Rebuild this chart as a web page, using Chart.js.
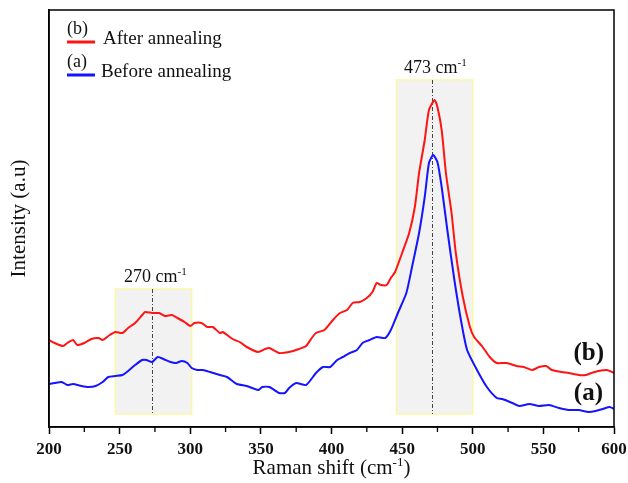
<!DOCTYPE html>
<html>
<head>
<meta charset="utf-8">
<script src="https://cdn.jsdelivr.net/npm/chart.js@4.4.1/dist/chart.umd.min.js"></script>
<style>
  html, body { margin: 0; padding: 0; background: #fff; }
  #wrap { width: 628px; height: 483px; }
</style>
</head>
<body>
<div id="wrap"><canvas id="raman" width="628" height="483"></canvas></div>
<script>
// (b) after annealing
const shiftB = [200,204,210,213,217,220,225,230,235,238,243,247,252,256,261,266,268,273,278,282,
  287,291,296,300,303,308,312,316,321,323,330,335,340,348,353,356,363,370,377,382,
  386,389,395,401,406,411,415,420,425,429,432,435,439,442,445,450,455,459,462,466,
  469,473,475,478,481,485,488,493,498,501,507,512,517,524,531,536,542,547,552,556,
  563,568,575,580,584,589,595,600];
const intensityB = [87,84,81,84,87,82,84,88,89,87,92,95,94,99,104,112,115,114,114,111,
  112,109,105,101,104,104,100,100,94,95,88,85,80,75,78,79,74,75,78,81,
  89,94,97,107,114,117,124,125,129,135,144,142,142,149,155,174,194,220,254,287,
  317,327,320,297,254,214,174,130,100,90,80,70,64,64,61,60,57,60,61,57,
  55,54,52,52,54,56,57,54];

// (a) before annealing
const shiftA = [200,204,209,213,217,223,228,233,238,242,247,252,256,261,266,269,273,277,281,286,
  290,294,298,301,305,309,314,321,326,333,340,348,351,356,363,367,370,375,382,389,
  394,399,404,408,413,418,422,427,432,438,442,447,453,457,462,466,469,472,475,478,
  482,487,492,496,503,510,517,521,528,533,540,547,554,561,568,575,582,587,592,597,600];
const intensityA = [43,44,45,42,43,41,40,41,45,50,51,52,56,62,67,67,65,70,68,65,
  64,66,64,59,57,57,55,52,50,43,41,37,40,40,34,34,39,44,42,54,
  60,60,67,70,74,77,84,87,90,89,97,114,134,160,194,230,264,272,265,240,
  197,147,104,77,57,40,29,28,24,21,23,21,22,19,17,17,15,16,18,20,18];

// shaded bands (x in cm-1, y in intensity units)
const bandStart = [247, 446];
const bandEnd = [301, 500];
const bandTop = [138, 347];
const bandBottom = [13, 13];
const bandCenter = [273, 471];
const bandLabel = ['270', '473'];

const majorTicks = [200, 250, 300, 350, 400, 450, 500, 550, 600];
const minorTicks = [225, 275, 325, 375, 425, 475, 525, 575];

const SERIF = '"Liberation Serif", "Times New Roman", serif';

function drawParts(ctx, parts, cx, y, size, weight) {
  // parts: [text, isSup]
  let total = 0;
  const widths = parts.map(function (p) {
    ctx.font = weight + ' ' + (p[1] ? size * 0.62 : size) + 'px ' + SERIF;
    const w = ctx.measureText(p[0]).width;
    total += w;
    return w;
  });
  let x = cx - total / 2;
  parts.forEach(function (p, i) {
    ctx.font = weight + ' ' + (p[1] ? size * 0.62 : size) + 'px ' + SERIF;
    ctx.fillText(p[0], x, p[1] ? y - size * 0.38 : y);
    x += widths[i];
  });
}

const decor = {
  id: 'decor',
  beforeDatasetsDraw(chart) {
    const ctx = chart.ctx;
    const x = chart.scales.x, y = chart.scales.y;
    ctx.save();
    for (let i = 0; i < bandStart.length; i++) {
      const l = x.getPixelForValue(bandStart[i]);
      const r = x.getPixelForValue(bandEnd[i]);
      const t = y.getPixelForValue(bandTop[i]);
      const b = y.getPixelForValue(bandBottom[i]);
      ctx.fillStyle = '#f2f2f2';
      ctx.fillRect(l, t, r - l, b - t);
      ctx.strokeStyle = '#fbf7a8';
      ctx.lineWidth = 1.5;
      ctx.strokeRect(l, t, r - l, b - t);
      const c = Math.round(x.getPixelForValue(bandCenter[i])) + 0.5;
      ctx.strokeStyle = '#444';
      ctx.lineWidth = 1;
      ctx.setLineDash([4, 2, 1, 2]);
      ctx.beginPath();
      ctx.moveTo(c, t);
      ctx.lineTo(c, b);
      ctx.stroke();
      ctx.setLineDash([]);
      ctx.fillStyle = '#111';
      ctx.textBaseline = 'alphabetic';
      ctx.textAlign = 'left';
      drawParts(ctx, [[bandLabel[i] + ' cm', false], ['-1', true]], c + 3, t - 7, 18, 'normal');
    }
    ctx.restore();
  },
  afterDraw(chart) {
    const ctx = chart.ctx;
    const a = chart.chartArea;
    const x = chart.scales.x;
    ctx.save();
    // frame
    ctx.strokeStyle = '#000';
    ctx.lineWidth = 1.5;
    ctx.strokeRect(a.left, a.top, a.right - a.left, a.bottom - a.top);
    // minor ticks
    ctx.lineWidth = 1.3;
    ctx.beginPath();
    minorTicks.forEach(function (v) {
      const px = x.getPixelForValue(v);
      ctx.moveTo(px, a.bottom);
      ctx.lineTo(px, a.bottom + 5);
    });
    ctx.stroke();

    ctx.textAlign = 'left';
    ctx.textBaseline = 'alphabetic';
    ctx.fillStyle = '#111';
    // x title
    drawParts(ctx, [['Raman shift (cm', false], ['-1', true], [')', false]], (a.left + a.right) / 2, 474, 21, 'normal');

    // legend
    ctx.lineWidth = 3;
    ctx.strokeStyle = '#ff1414';
    ctx.beginPath(); ctx.moveTo(a.left + 18, a.top + 32); ctx.lineTo(a.left + 46, a.top + 32); ctx.stroke();
    ctx.strokeStyle = '#1414ff';
    ctx.beginPath(); ctx.moveTo(a.left + 18, a.top + 65); ctx.lineTo(a.left + 46, a.top + 65); ctx.stroke();
    ctx.font = '18px ' + SERIF;
    ctx.fillText('(b)', a.left + 18, a.top + 24);
    ctx.fillText('(a)', a.left + 18, a.top + 57);
    ctx.font = '19px ' + SERIF;
    ctx.fillText('After annealing', a.left + 54, a.top + 34);
    ctx.fillText('Before annealing', a.left + 52, a.top + 67);

    // curve labels
    ctx.font = 'bold 25px ' + SERIF;
    ctx.textAlign = 'right';
    ctx.fillText('(b)', a.right - 10, 360);
    ctx.fillText('(a)', a.right - 11, 400);
    ctx.restore();
  }
};

new Chart(document.getElementById('raman'), {
  type: 'line',
  data: {
    datasets: [
      {
        label: 'After annealing',
        data: shiftB.map((v, i) => ({ x: v, y: intensityB[i] })),
        borderColor: '#ff1414',
        borderWidth: 2,
        pointRadius: 0,
        tension: 0.2,
      },
      {
        label: 'Before annealing',
        data: shiftA.map((v, i) => ({ x: v, y: intensityA[i] })),
        borderColor: '#1414ff',
        borderWidth: 2,
        pointRadius: 0,
        tension: 0.2,
      },
    ],
  },
  options: {
    responsive: false,
    animation: false,
    layout: { padding: { left: 0, right: 14, top: 10, bottom: 0 } },
    plugins: {
      legend: { display: false },
      tooltip: { enabled: false },
    },
    scales: {
      x: {
        type: 'linear',
        min: 200,
        max: 600,
        afterBuildTicks: function (scale) {
          scale.ticks = majorTicks.map((v) => ({ value: v }));
        },
        afterFit: function (scale) {
          scale.height = 56;
          scale.paddingLeft = 0;
          scale.paddingRight = 0;
        },
        grid: {
          drawOnChartArea: false,
          drawTicks: true,
          tickLength: 7,
          tickColor: '#000',
          tickWidth: 1.5,
        },
        border: { display: true, color: '#000', width: 1.5 },
        ticks: {
          color: '#111',
          padding: 5,
          maxRotation: 0,
          font: { family: SERIF, size: 17, weight: 'bold' },
        },
        title: { display: false },
      },
      y: {
        min: 0,
        max: 417,
        afterFit: function (scale) {
          scale.width = 49;
        },
        grid: { display: false },
        border: { display: true, color: '#000', width: 1.5 },
        ticks: { display: false },
        title: {
          display: true,
          text: 'Intensity (a.u)',
          color: '#111',
          padding: { top: 7, bottom: 0 },
          font: { family: SERIF, size: 21 },
        },
      },
    },
  },
  plugins: [decor],
});
</script>
</body>
</html>
